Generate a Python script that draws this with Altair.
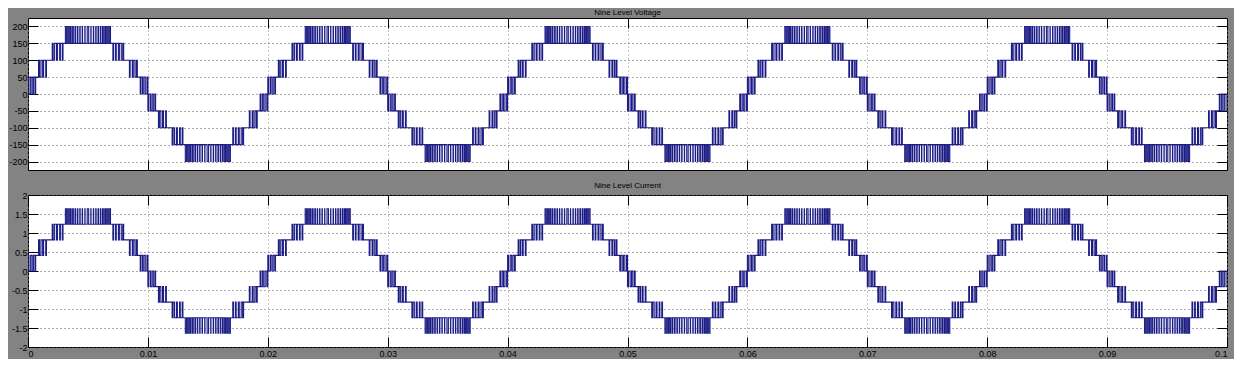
import altair as alt
import pandas as pd

# ---- data -----------------------------------------------------------------
# One quarter period (0 .. 5 ms) of the nine-level PWM staircase:
# switching instants (ms) and the level index entered at each instant.
quarter_times_ms = [0.00, 0.08, 0.22, 0.34, 0.45, 0.58, 0.64,
                    0.88, 0.96, 1.08, 1.22, 1.30, 1.48, 1.54,
                    2.02, 2.10, 2.22, 2.38, 2.46, 2.64, 2.70, 2.86, 2.92,
                    3.12, 3.22, 3.32, 3.42, 3.52, 3.60, 3.72, 3.78, 3.92, 3.97,
                    4.12, 4.16, 4.32, 4.35, 4.52, 4.55, 4.74, 4.76, 4.94]
quarter_levels = [1, 0, 1, 0, 1, 0, 1,
                  2, 1, 2, 1, 2, 1, 2,
                  3, 2, 3, 2, 3, 2, 3, 2, 3,
                  4, 3, 4, 3, 4, 3, 4, 3, 4, 3,
                  4, 3, 4, 3, 4, 3, 4, 3, 4]
voltage_levels = [0, 50, 100, 150, 200]          # V
current_levels = [0, 0.41, 0.82, 1.23, 1.64]     # A
quarter_ms = 5.0
period_ms = 20.0
n_periods = 5

x_ticks = [0, 0.01, 0.02, 0.03, 0.04, 0.05, 0.06, 0.07, 0.08, 0.09, 0.1]
v_ticks = [-200, -150, -100, -50, 0, 50, 100, 150, 200]
i_ticks = [-2, -1.5, -1, -0.5, 0, 0.5, 1, 1.5, 2]
v_domain = [-225, 225]
i_domain = [-2, 2]
x_domain = [0, 0.1]

# ---- build the periodic waveform from the quarter period (quarter-wave symmetry)
quarter = []
for k, t0 in enumerate(quarter_times_ms):
    t1 = quarter_times_ms[k + 1] if k + 1 < len(quarter_times_ms) else quarter_ms
    quarter.append((t0, t1, quarter_levels[k]))
half = quarter + [(2 * quarter_ms - e, 2 * quarter_ms - s, l) for (s, e, l) in reversed(quarter)]
period = half + [(s + 2 * quarter_ms, e + 2 * quarter_ms, -l) for (s, e, l) in half]
segments = []
for p in range(n_periods):
    for (s, e, l) in period:
        segments.append((s + p * period_ms, e + p * period_ms, l))


def level_value(levels, idx):
    return levels[idx] if idx >= 0 else -levels[-idx]


rows = []
for (s, e, l) in segments:
    rows.append({"t": s / 1000.0, "v": level_value(voltage_levels, l), "i": level_value(current_levels, l)})
last = segments[-1]
rows.append({"t": last[1] / 1000.0, "v": level_value(voltage_levels, last[2]), "i": level_value(current_levels, last[2])})
wave = pd.DataFrame(rows)

FONT = "Liberation Sans"
LINE = "#1c1c86"


def panel(field, title, y_ticks, y_domain, show_x_labels):
    # a single invisible anchor point inside the plot carries the top/right tick axes
    frame_df = pd.DataFrame({"t": [x_ticks[5]], field: [y_ticks[4]]})
    xs = alt.Scale(domain=x_domain, nice=False, zero=False)
    ys = alt.Scale(domain=y_domain, nice=False, zero=False)
    line = alt.Chart(wave).mark_line(interpolate="step-after", color=LINE, strokeWidth=1.1).encode(
        x=alt.X("t:Q", scale=xs, axis=alt.Axis(
            orient="bottom", values=x_ticks, offset=-10, tickSize=10, tickColor="black",
            domain=False, grid=True, gridDash=[1, 3], gridColor="#8a8a8a",
            labels=show_x_labels, labelExpr="'' + datum.value", labelFont=FONT,
            labelFontSize=9, labelColor="black", labelPadding=2, title=None)),
        y=alt.Y(f"{field}:Q", scale=ys, axis=alt.Axis(
            orient="left", values=y_ticks, offset=-10, tickSize=10, tickColor="black",
            domain=False, grid=True, gridDash=[1, 3], gridColor="#555555",
            labelExpr="'' + datum.value", labelFont=FONT, labelFontSize=9,
            labelColor="black", labelPadding=1, title=None)),
    )
    frame = alt.Chart(frame_df).mark_point(opacity=0, size=1).encode(
        x=alt.X("t:Q", scale=xs, axis=alt.Axis(
            orient="top", values=x_ticks, offset=-10, tickSize=10, tickColor="black",
            domain=False, grid=False, labels=False, title=None)),
        y=alt.Y(f"{field}:Q", scale=ys, axis=alt.Axis(
            orient="right", values=y_ticks, offset=-10, tickSize=10, tickColor="black",
            domain=False, grid=False, labels=False, title=None)),
    )
    return alt.layer(line, frame).resolve_axis(x="independent", y="independent").properties(
        width=1199, height=152,
        title=alt.TitleParams(title, font=FONT, fontSize=8, fontWeight="normal",
                              color="black", offset=1, anchor="middle", frame="group"),
    )


top = panel("v", "Nine Level Voltage", v_ticks, v_domain, False)
bottom = panel("i", "Nine Level Current", i_ticks, i_domain, True)

chart = alt.vconcat(top, bottom, spacing=10).properties(
    background="#838383",
    padding={"left": 0, "top": 0, "right": 4, "bottom": 0},
).configure_view(stroke="black", strokeWidth=1, fill="white")

chart.save("out.html", embed_options={"renderer": "svg", "actions": False})
